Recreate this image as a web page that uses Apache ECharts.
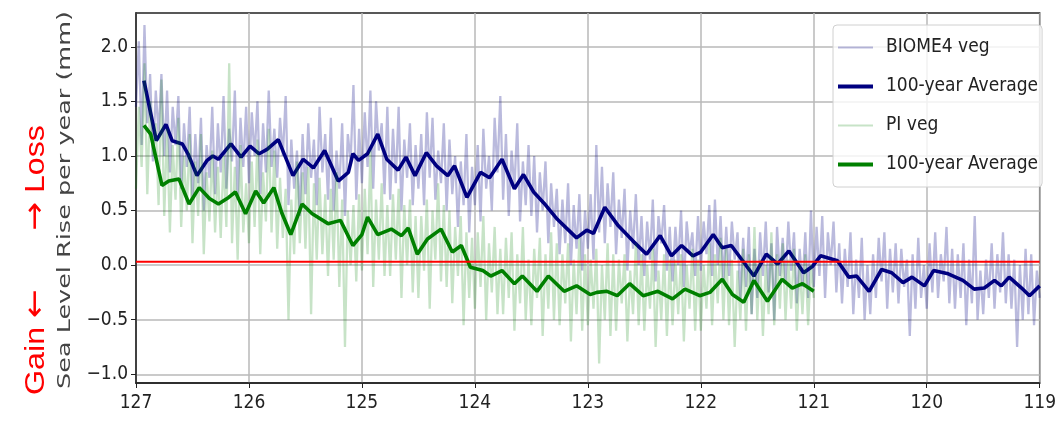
<!DOCTYPE html>
<html><head><meta charset="utf-8">
<script src="https://cdn.jsdelivr.net/npm/echarts@6/dist/echarts.min.js"></script>
<style>html,body{margin:0;padding:0;background:#fff}#c{width:1059px;height:421px}</style>
</head><body><div id="c"></div>
<script>
// ---- data ----
const yTickValues = [-1.0, -0.5, 0.0, 0.5, 1.0, 1.5, 2.0];
const rawStartKa = 127.0;
const rawStepKa = 0.025;
const biomeRaw = [
 1.45,2.05,1.1,2.2,1.3,1.75,0.95,1.6,1.2,1.75,
 1.0,1.6,0.85,1.45,1.1,1.55,0.7,1.3,0.9,1.45,
 0.6,1.2,0.75,1.35,0.5,1.1,0.8,1.45,0.65,1.3,
 0.85,1.55,0.7,1.25,0.95,1.6,0.6,1.35,0.9,1.45,
 0.75,1.4,1.0,1.5,0.65,1.3,0.85,1.6,0.9,1.25,
 0.8,1.35,1.0,1.55,0.55,1.15,0.7,1.05,0.45,1.2,
 0.65,1.3,0.8,1.15,0.55,1.45,0.85,1.2,0.6,1.35,
 0.5,1.05,0.7,1.3,0.45,1.2,0.95,1.65,0.6,1.25,
 0.75,1.4,0.9,1.6,0.7,1.5,1.05,1.3,0.65,1.45,
 0.6,1.25,0.75,1.45,0.5,1.15,0.8,1.3,0.55,1.1,
 0.7,1.2,0.55,1.4,0.8,1.35,0.6,1.05,0.75,1.3,
 0.5,1.15,0.65,1.0,0.35,0.95,0.55,1.2,0.3,0.9,
 0.55,1.1,0.4,1.25,0.7,1.0,0.5,1.35,0.85,1.55,
 0.6,1.2,0.45,1.05,0.7,1.3,0.4,0.95,0.55,1.1,
 0.45,1.0,0.3,0.85,0.5,0.95,0.2,0.75,0.35,0.7,
 0.1,0.6,0.2,0.75,0.0,0.55,0.15,0.65,-0.05,0.5,
 0.15,0.65,0.05,1.1,0.3,0.9,0.2,0.75,0.35,0.85,
 0.1,0.6,0.25,0.7,-0.05,0.5,0.15,0.65,0.0,0.45,
 -0.1,0.4,0.05,0.6,-0.15,0.45,0.2,0.55,-0.05,0.35,
 -0.15,0.35,0.0,0.5,-0.2,0.4,0.1,0.3,-0.1,0.45,
 -0.05,0.4,0.1,0.55,-0.1,0.6,0.0,0.45,-0.15,0.35,
 -0.1,0.4,0.05,0.3,-0.3,0.25,-0.2,0.35,-0.45,0.15,
 -0.3,0.3,-0.1,0.4,-0.25,0.2,-0.5,0.35,-0.1,0.25,
 -0.15,0.4,-0.05,0.3,-0.35,0.15,-0.2,0.3,-0.3,0.5,
 -0.2,0.35,-0.1,0.45,-0.3,0.3,0.0,0.4,-0.25,0.2,
 -0.35,0.15,-0.2,0.3,-0.45,0.05,-0.3,0.25,-0.5,0.0,
 -0.45,0.1,-0.3,0.25,-0.15,0.3,-0.4,0.15,-0.25,0.2,
 -0.35,0.15,-0.2,0.05,-0.65,0.1,-0.4,0.25,-0.3,0.0,
 -0.4,0.2,-0.25,0.3,-0.3,0.1,-0.15,0.35,-0.35,0.15,
 -0.4,0.1,-0.3,0.2,-0.55,0.05,-0.35,0.45,-0.5,-0.05,
 -0.45,0.05,-0.3,0.2,-0.4,0.1,-0.25,0.3,-0.35,0.1,
 -0.4,0.05,-0.75,0.0,-0.5,0.15,-0.45,0.1,-0.55,-0.05,
 -0.3
];
const piRaw = [
 0.7,1.45,0.9,1.85,0.65,1.5,1.0,1.3,0.55,1.7,
 0.45,1.25,0.3,1.1,0.6,1.35,0.35,1.0,0.5,1.2,
 0.2,0.95,0.45,1.2,0.1,0.85,0.4,1.05,0.3,0.9,
 0.25,1.0,0.35,1.85,0.2,0.9,0.05,1.1,0.3,0.75,
 0.2,0.95,0.35,1.15,0.1,0.85,0.4,1.25,0.3,1.05,
 0.15,0.8,0.25,0.7,-0.5,0.6,0.1,0.95,0.2,0.85,
 0.15,0.9,-0.45,0.75,0.05,0.8,0.1,0.65,-0.1,0.7,
 0.05,0.85,-0.2,0.6,-0.75,0.5,0.0,0.55,-0.15,0.65,
 -0.05,0.7,0.1,1.05,-0.2,0.6,0.05,0.75,-0.1,0.55,
 -0.1,0.65,0.05,0.7,-0.3,0.55,0.0,0.6,-0.25,0.45,
 -0.3,0.45,-0.05,0.6,-0.4,0.5,0.05,0.75,-0.15,0.55,
 -0.2,0.5,-0.35,0.35,-0.1,0.45,-0.55,0.3,-0.3,0.25,
 -0.4,0.3,-0.2,0.45,-0.5,0.2,-0.25,0.35,-0.45,0.15,
 -0.45,0.25,-0.3,0.3,-0.6,0.1,-0.35,0.35,-0.5,0.05,
 -0.55,0.15,-0.3,0.25,-0.65,0.1,-0.4,0.3,-0.5,0.2,
 -0.55,0.1,-0.35,0.2,-0.7,0.05,-0.45,0.25,-0.6,0.1,
 -0.55,0.05,-0.4,0.15,-0.9,0.0,-0.5,0.2,-0.65,0.1,
 -0.6,0.05,-0.35,0.1,-0.7,-0.05,-0.45,0.2,-0.55,0.1,
 -0.6,0.0,-0.4,0.15,-0.75,-0.05,-0.5,0.1,-0.65,0.05,
 -0.55,0.05,-0.45,0.1,-0.7,0.0,-0.4,0.15,-0.6,0.05,
 -0.6,0.0,-0.4,0.2,-0.55,0.1,-0.35,0.25,-0.5,0.15,
 -0.55,0.05,-0.75,-0.05,-0.5,0.15,-0.6,0.1,-0.45,0.35,
 -0.5,0.05,-0.65,0.0,-0.45,0.3,-0.55,0.1,-0.4,0.2,
 -0.5,0.05,-0.4,0.15,-0.6,0.0,-0.45,0.1,-0.55,0.0,
 -0.3
];
const biomeAvgT = [126.93,126.82,126.735,126.68,126.59,126.54,126.46,126.37,126.32,126.27,126.16,126.07,125.99,125.91,125.84,125.74,125.61,125.52,125.43,125.33,125.21,125.12,125.08,125.03,124.95,124.86,124.78,124.68,124.61,124.53,124.43,124.34,124.24,124.18,124.07,123.95,123.87,123.76,123.65,123.57,123.48,123.39,123.27,123.18,123.10,123.01,122.95,122.85,122.73,122.60,122.48,122.36,122.26,122.17,122.07,122.00,121.89,121.81,121.73,121.63,121.53,121.42,121.32,121.22,121.09,121.01,120.94,120.79,120.69,120.62,120.51,120.40,120.31,120.21,120.13,120.02,119.94,119.81,119.68,119.58,119.49,119.40,119.34,119.27,119.16,119.09,119.00];
const biomeAvgV = [1.69,1.14,1.29,1.14,1.11,1.02,0.82,0.96,1.00,0.97,1.11,0.99,1.09,1.02,1.06,1.15,0.82,0.97,0.89,1.05,0.77,0.85,1.02,0.96,1.02,1.20,0.97,0.87,0.99,0.82,1.03,0.91,0.82,0.91,0.62,0.85,0.80,0.97,0.70,0.83,0.67,0.57,0.42,0.33,0.25,0.32,0.29,0.53,0.36,0.22,0.10,0.27,0.085,0.18,0.085,0.12,0.28,0.16,0.18,0.04,-0.10,0.10,0.01,0.13,-0.07,-0.01,0.085,0.04,-0.11,-0.10,-0.24,-0.04,-0.07,-0.16,-0.11,-0.19,-0.05,-0.08,-0.14,-0.22,-0.21,-0.14,-0.19,-0.11,-0.21,-0.28,-0.19];
const piAvgT = [126.93,126.87,126.77,126.71,126.62,126.53,126.44,126.35,126.27,126.18,126.12,126.03,125.94,125.87,125.78,125.71,125.63,125.53,125.44,125.30,125.19,125.08,125.00,124.95,124.86,124.74,124.65,124.59,124.51,124.42,124.30,124.20,124.12,124.04,123.93,123.86,123.76,123.65,123.58,123.45,123.35,123.21,123.10,122.98,122.92,122.83,122.74,122.63,122.51,122.38,122.25,122.14,122.01,121.92,121.81,121.72,121.62,121.53,121.41,121.28,121.19,121.10,121.00];
const piAvgV = [1.28,1.20,0.73,0.77,0.79,0.56,0.71,0.61,0.56,0.62,0.67,0.47,0.68,0.57,0.71,0.48,0.28,0.56,0.47,0.38,0.41,0.18,0.28,0.44,0.28,0.33,0.27,0.34,0.10,0.24,0.33,0.12,0.18,-0.02,-0.05,-0.10,-0.05,-0.17,-0.10,-0.24,-0.10,-0.24,-0.19,-0.27,-0.25,-0.24,-0.28,-0.17,-0.28,-0.24,-0.31,-0.22,-0.28,-0.25,-0.13,-0.27,-0.34,-0.14,-0.33,-0.13,-0.21,-0.17,-0.24];
const refLineT = [127, 119];
const refLineV = [0.03, 0.03];
const legendNames = ['biomeRaw', 'biomeAvg', 'piRaw', 'piAvg'];
const legendLabels = ['BIOME4 veg', '100-year Average', 'PI veg', '100-year Average'];
const yAxisTitle = 'Sea Level Rise per year (mm)';
const sideWordLow = 'Gain', sideArrowLow = '\u2190';
const sideArrowHigh = '\u2192', sideWordHigh = 'Loss';

// ---- colours ----
const navy = '#000080', green = '#008000';
const navyRaw = 'rgba(0,0,128,0.27)', greenRaw = 'rgba(0,128,0,0.22)';
const thinIcon = 'path://M0,0h70v4h-70z';
const thickIcon = 'path://M0,0h35v4h-35z';

// ---- build ----
const rawPairs = arr => arr.map((v, i) => [+(rawStartKa - i * rawStepKa).toFixed(3), v]);
const zip = (t, v) => t.map((x, i) => [x, v[i]]);
const labelFont = '"DejaVu Sans Condensed","DejaVu Sans",sans-serif';
const redRich = {
  w: {fontSize: 28, fill: '#ff0000', color: '#ff0000', fontFamily: '"Liberation Sans",Arial,sans-serif'},
  a: {fontSize: 30, fill: '#ff0000', color: '#ff0000', fontFamily: '"DejaVu Sans",sans-serif'}
};

const chart = echarts.init(document.getElementById('c'), null, {renderer: 'canvas'});
chart.setOption({
  animation: false,
  backgroundColor: '#fff',
  grid: {left: 136, right: 12, top: 13, bottom: 38, show: true, borderColor: '#222', borderWidth: 1.5, backgroundColor: 'transparent'},
  xAxis: {
    type: 'value', inverse: true, min: 119, max: 127, interval: 1,
    axisLine: {show: true, onZero: false, lineStyle: {color: '#222', width: 1.5}},
    axisTick: {show: true, length: 5, lineStyle: {color: '#222', width: 1}},
    axisLabel: {margin: 11, fontSize: 19, color: '#222', fontFamily: labelFont},
    splitLine: {show: true, lineStyle: {color: '#b8b8b8', width: 1.5}}
  },
  yAxis: {
    type: 'value', min: -1.08, max: 2.31,
    axisLine: {show: true, lineStyle: {color: '#222', width: 1.5}},
    axisTick: {show: true, length: 5, customValues: yTickValues, lineStyle: {color: '#222', width: 1}},
    axisLabel: {margin: 8, fontSize: 19, color: '#222', fontFamily: labelFont, customValues: yTickValues,
      formatter: v => (v < 0 ? '\u2212' : '') + Math.abs(v).toFixed(1)},
    splitLine: {show: true, lineStyle: {color: '#b8b8b8', width: 1.5}}
  },
  legend: {
    data: [
      {name: 'biomeRaw', icon: thinIcon, itemStyle: {color: navyRaw}},
      {name: 'biomeAvg', icon: thickIcon, itemStyle: {color: navy}},
      {name: 'piRaw', icon: thinIcon, itemStyle: {color: greenRaw}},
      {name: 'piAvg', icon: thickIcon, itemStyle: {color: green}}
    ],
    formatter: n => legendLabels[legendNames.indexOf(n)],
    orient: 'vertical', left: 833, top: 25,
    padding: [13, 4, 13, 5], itemGap: 20, itemWidth: 35, itemHeight: 4,
    backgroundColor: 'rgba(255,255,255,0.8)', borderColor: '#d0d0d0', borderWidth: 1, borderRadius: 4,
    textStyle: {fontSize: 19, lineHeight: 19, color: '#222', fontFamily: labelFont, padding: [0, 0, 0, 8]}
  },
  graphic: [
    {type: 'text', x: 66, y: 200, rotation: Math.PI / 2, scaleX: 1.5, scaleY: 1,
     style: {text: yAxisTitle, fill: '#444', fontSize: 17, fontFamily: '"DejaVu Sans",sans-serif', align: 'center', verticalAlign: 'middle'}},
    {type: 'text', x: 36, y: 342, rotation: Math.PI / 2, scaleX: 1.15, scaleY: 1,
     style: {text: '{w|' + sideWordLow + ' }{a|' + sideArrowLow + '}', rich: redRich, fill: '#ff0000', fontSize: 28, align: 'center', verticalAlign: 'middle'}},
    {type: 'text', x: 36, y: 178, rotation: Math.PI / 2, scaleX: 1.15, scaleY: 1,
     style: {text: '{a|' + sideArrowHigh + '}{w| ' + sideWordHigh + '}', rich: redRich, fill: '#ff0000', fontSize: 28, align: 'center', verticalAlign: 'middle'}}
  ],
  series: [
    {name: 'biomeRaw', type: 'line', data: rawPairs(biomeRaw), showSymbol: false, symbol: 'none',
     color: navyRaw, lineStyle: {color: navyRaw, width: 2.3}, z: 2},
    {name: 'biomeAvg', type: 'line', data: zip(biomeAvgT, biomeAvgV), showSymbol: false, symbol: 'none',
     color: navy, lineStyle: {color: navy, width: 3.6}, z: 3},
    {name: 'piRaw', type: 'line', data: rawPairs(piRaw), showSymbol: false, symbol: 'none',
     color: greenRaw, lineStyle: {color: greenRaw, width: 2.3}, z: 4},
    {name: 'piAvg', type: 'line', data: zip(piAvgT, piAvgV), showSymbol: false, symbol: 'none',
     color: green, lineStyle: {color: green, width: 3.6}, z: 5},
    {name: 'ref', type: 'line', data: zip(refLineT, refLineV), showSymbol: false, symbol: 'none',
     color: '#ff0000', lineStyle: {color: '#ff0000', width: 2}, z: 6}
  ]
});
</script></body></html>
